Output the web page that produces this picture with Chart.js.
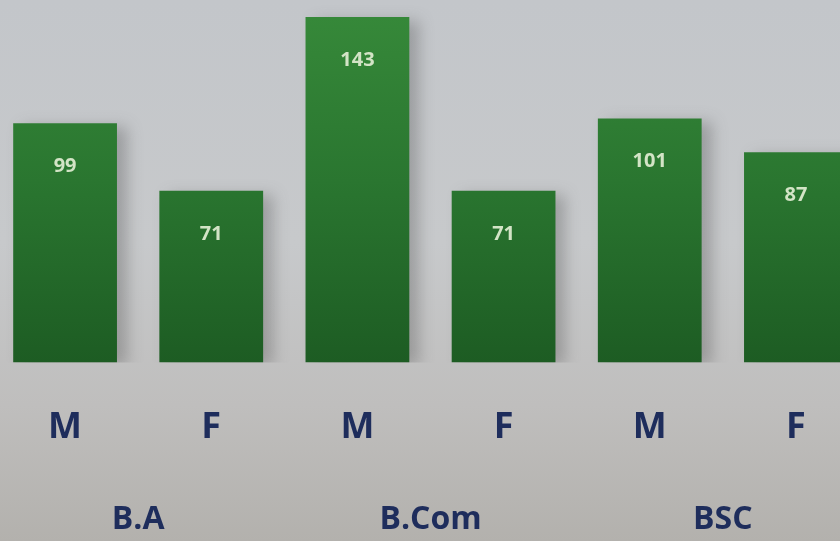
<!DOCTYPE html>
<html>
<head>
<meta charset="utf-8">
<script src="https://cdn.jsdelivr.net/npm/chart.js@4"></script>
<style>
  html, body { margin: 0; padding: 0; overflow: hidden; }
  body {
    width: 840px; height: 541px; position: relative;
    background: linear-gradient(180deg, #c3c6ca 0%, #c7c9cb 45%, #bfbebd 75%, #b3b1ad 100%);
  }
  #wrap { position: absolute; left: -8px; top: 0; width: 877px; height: 546px; }
</style>
</head>
<body>
<div id="wrap"><canvas id="grafico"></canvas></div>
<script>
const genero = ['M', 'F', 'M', 'F', 'M', 'F'];
const cursos = ['B.A', 'B.Com', 'BSC'];
const alunos = [99, 71, 143, 71, 101, 87];

// gradiente verde das barras
function corBarra(context) {
  const area = context.chart.chartArea;
  if (!area) return '#2a7430';
  const g = context.chart.ctx.createLinearGradient(0, area.top, 0, area.bottom);
  g.addColorStop(0, '#378a3a');
  g.addColorStop(0.5, '#2a7630');
  g.addColorStop(1, '#1d5c23');
  return g;
}

const rotulosValor = {
  id: 'rotulosValor',
  afterDatasetsDraw(chart) {
    const ctx = chart.ctx;
    const meta = chart.getDatasetMeta(0);
    ctx.save();
    ctx.font = 'bold 20px "Open Sans"';
    ctx.fillStyle = '#d3e4c6';
    ctx.textAlign = 'center';
    ctx.textBaseline = 'middle';
    meta.data.forEach((bar, i) => {
      ctx.fillText(alunos[i], bar.x, bar.y + 43);
    });
    ctx.restore();
  }
};

const sombra = {
  id: 'sombra',
  beforeDatasetsDraw(chart) {
    chart.ctx.save();
    chart.ctx.shadowColor = 'rgba(60,60,60,0.3)';
    chart.ctx.shadowBlur = 14;
    chart.ctx.shadowOffsetX = 10;
    chart.ctx.shadowOffsetY = 4;
  },
  afterDatasetsDraw(chart) {
    chart.ctx.restore();
  }
};

new Chart(document.getElementById('grafico'), {
  type: 'bar',
  data: {
    labels: genero,
    datasets: [{
      data: alunos,
      backgroundColor: corBarra,
      borderWidth: 0,
      categoryPercentage: 1,
      barPercentage: 0.71
    }]
  },
  options: {
    responsive: true,
    maintainAspectRatio: false,
    animation: false,
    layout: { padding: 0 },
    plugins: {
      legend: { display: false },
      tooltip: { enabled: false }
    },
    scales: {
      y: {
        display: false,
        min: 0,
        max: 150
      },
      x: {
        grid: { display: false, drawTicks: false },
        border: { display: false },
        ticks: {
          color: '#1e2d5c',
          padding: 44,
          font: { family: '"Open Sans"', size: 36, weight: 'bold' }
        }
      },
      x2: {
        type: 'category',
        position: 'bottom',
        labels: cursos,
        grid: { display: false, drawTicks: false },
        border: { display: false },
        ticks: {
          color: '#1e2d5c',
          padding: 7,
          font: { family: '"Open Sans"', size: 32, weight: 'bold' }
        }
      }
    }
  },
  plugins: [sombra, rotulosValor]
});
</script>
</body>
</html>
